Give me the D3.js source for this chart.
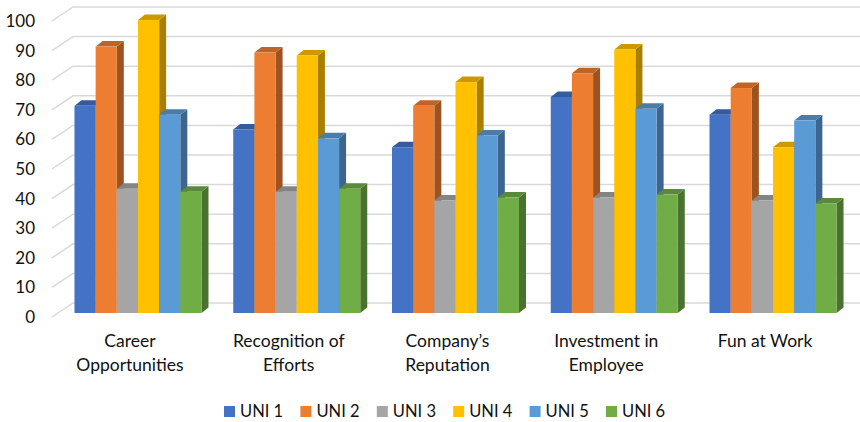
<!DOCTYPE html>
<html>
<head>
<meta charset="utf-8">
<script src="https://d3js.org/d3.v7.min.js"></script>
<style>
  html, body { margin: 0; padding: 0; background: #fff; }
  text { font-family: Lato, "Open Sans", sans-serif; fill: #111; }
</style>
</head>
<body>
<div id="visualization"></div>
<script>
// chart data
const categories = [
  ["Career", "Opportunities"],
  ["Recognition of", "Efforts"],
  ["Company\u2019s", "Reputation"],
  ["Investment in", "Employee"],
  ["Fun at Work"]
];
const seriesNames = ["UNI 1", "UNI 2", "UNI 3", "UNI 4", "UNI 5", "UNI 6"];
const uni1 = [70, 62, 56, 73, 67];
const uni2 = [90, 88, 70, 81, 76];
const uni3 = [42, 41, 38, 39, 38];
const uni4 = [99, 87, 78, 89, 56];
const uni5 = [67, 59, 60, 69, 65];
const uni6 = [41, 42, 39, 40, 37];
const colors = ["#4472C4", "#ED7D31", "#A5A5A5", "#FFC000", "#5B9BD5", "#70AD47"];
const yTicks = [0, 10, 20, 30, 40, 50, 60, 70, 80, 90, 100];

const allSeries = [uni1, uni2, uni3, uni4, uni5, uni6];

const svgWidth = 860;
const svgHeight = 422;
const depthX = 7;   // how far the 3d depth goes sideways
const depthY = 5.5;

const svg = d3.select("#visualization")
  .append("svg")
  .attr("width", svgWidth)
  .attr("height", svgHeight)
  .style("display", "block");

const yScale = d3.scaleLinear([0, 100], [313, 17]);
const x0 = d3.scaleBand(d3.range(categories.length), [58.6, 852.4]).paddingInner(0.2).paddingOuter(0.1);
const x1 = d3.scaleBand(d3.range(seriesNames.length), [0, x0.bandwidth()]);

// shade a colour for the side and top faces
function shade(c, k) {
  const r = d3.rgb(c);
  return d3.rgb(r.r * k, r.g * k, r.b * k).formatHex();
}

// gridlines: slanted part on the side wall, then across the back wall
const grid = svg.append("g").attr("fill", "none").attr("stroke", "#d9d9d9").attr("stroke-width", 1.5);
yTicks.forEach(t => {
  const yBack = yScale(t) - 10;
  grid.append("path").attr("d", `M52,${yBack + 14}L73,${yBack}L860,${yBack}`);
});

// y axis labels
const yAxis = d3.axisLeft(yScale).tickValues(yTicks).tickSize(0).tickPadding(0);
svg.append("g")
  .attr("transform", "translate(35,4)")
  .call(yAxis)
  .call(g => g.select(".domain").remove())
  .selectAll("text")
  .style("font-family", "Lato, 'Open Sans', sans-serif")
  .style("font-size", "17px")
  .style("fill", "#111");

// bars, left to right so each front face covers the side of the previous bar
categories.forEach((cat, i) => {
  const g = svg.append("g").attr("transform", `translate(${x0(i)},0)`);
  allSeries.forEach((vals, s) => {
    const x = x1(s);
    const w = x1.bandwidth();
    const top = yScale(vals[i]);
    const base = yScale(0);
    g.append("path")
      .attr("fill", shade(colors[s], 0.66))
      .attr("d", `M${x + w},${top}L${x + w + depthX},${top - depthY}L${x + w + depthX},${base - depthY}L${x + w},${base}Z`);
    g.append("path")
      .attr("fill", shade(colors[s], 0.8))
      .attr("d", `M${x},${top}L${x + depthX},${top - depthY}L${x + w + depthX},${top - depthY}L${x + w},${top}Z`);
    g.append("rect")
      .attr("x", x)
      .attr("y", top)
      .attr("width", w)
      .attr("height", base - top)
      .attr("fill", colors[s]);
  });
});

// category labels
categories.forEach((lines, i) => {
  const label = svg.append("text")
    .attr("text-anchor", "middle")
    .style("font-size", "17.5px");
  lines.forEach((line, j) => {
    label.append("tspan")
      .attr("x", x0(i) + x0.bandwidth() / 2 - 8)
      .attr("y", 347 + j * 24)
      .text(line);
  });
});

// legend
const legendX = d3.scalePoint(seriesNames, [224, 606]);
const legend = svg.selectAll(".legend")
  .data(seriesNames)
  .enter()
  .append("g")
  .attr("class", "legend")
  .attr("transform", d => `translate(${legendX(d)},406)`);
legend.append("rect")
  .attr("width", 11)
  .attr("height", 11)
  .attr("fill", (d, i) => colors[i]);
legend.append("text")
  .attr("x", 16)
  .attr("y", 11)
  .style("font-size", "16.5px")
  .text(d => d);
</script>
</body>
</html>
